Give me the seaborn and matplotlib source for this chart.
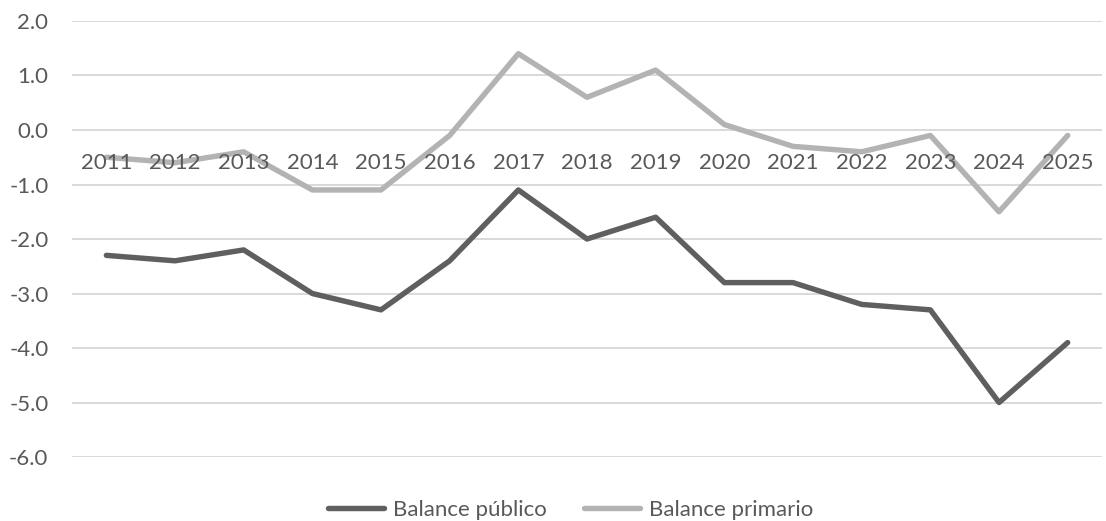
import matplotlib
matplotlib.use("Agg")
import matplotlib.pyplot as plt
import seaborn as sns
import pandas as pd

years = ["2011", "2012", "2013", "2014", "2015", "2016", "2017", "2018",
         "2019", "2020", "2021", "2022", "2023", "2024", "2025"]
balance_publico = [-2.3, -2.4, -2.2, -3.0, -3.3, -2.4, -1.1, -2.0,
                   -1.6, -2.8, -2.8, -3.2, -3.3, -5.0, -3.9]
balance_primario = [-0.5, -0.6, -0.4, -1.1, -1.1, -0.1, 1.4, 0.6,
                    1.1, 0.1, -0.3, -0.4, -0.1, -1.5, -0.1]
series_names = ["Balance público", "Balance primario"]
series_colors = ["#5f5f5f", "#b3b3b3"]

sns.set_theme(style="white")
plt.rcParams["font.family"] = ["Lato", "DejaVu Sans"]

df = pd.DataFrame({
    "pos": list(range(len(years))) * 2,
    "valor": balance_publico + balance_primario,
    "serie": [series_names[0]] * len(years) + [series_names[1]] * len(years),
})

fig = plt.figure(figsize=(11.06, 5.21), dpi=100)
ax = fig.add_axes([0.0651, 0.1228, 0.9313, 0.8369])

sns.lineplot(data=df, x="pos", y="valor", hue="serie", hue_order=series_names,
             palette=series_colors, linewidth=3.9, ax=ax, legend=False,
             solid_capstyle="round", solid_joinstyle="round")

ax.set_xlim(-0.5, len(years) - 0.5)
ax.set_ylim(-6, 2)
yticks = [2, 1, 0, -1, -2, -3, -4, -5, -6]
ax.set_yticks(yticks)
ax.set_yticklabels([f"{v:.1f}" for v in yticks])

# gridlines go beneath the series; tick labels stay on top of them
ax.grid(False)
for v in ax.get_yticks():
    ax.axhline(v, color="#d9d9d9", linewidth=1.4, zorder=0.5)
ax.set_axisbelow(False)

# category axis crosses at zero, labels sit just below that line
ax.spines["bottom"].set_position(("data", 0))
for s in ["top", "right", "left", "bottom"]:
    ax.spines[s].set_visible(False)
ax.set_xticks(range(len(years)))
ax.set_xticklabels(years)
ax.tick_params(axis="x", length=0, pad=16.5, labelsize=16, labelcolor="#595959")
ax.tick_params(axis="y", length=0, pad=17, labelsize=16, labelcolor="#595959")
ax.set_xlabel("")
ax.set_ylabel("")

handles = [plt.Line2D([0], [0], color=c, linewidth=3.9, solid_capstyle="round")
           for c in series_colors]
fig.legend(handles, series_names, loc="center", bbox_to_anchor=(0.516, 0.022),
           ncol=2, frameon=False, fontsize=16, labelcolor="#595959",
           handlelength=2.5, handletextpad=0.4, columnspacing=1.7)

fig.savefig("out.png", dpi=100, facecolor="white")
